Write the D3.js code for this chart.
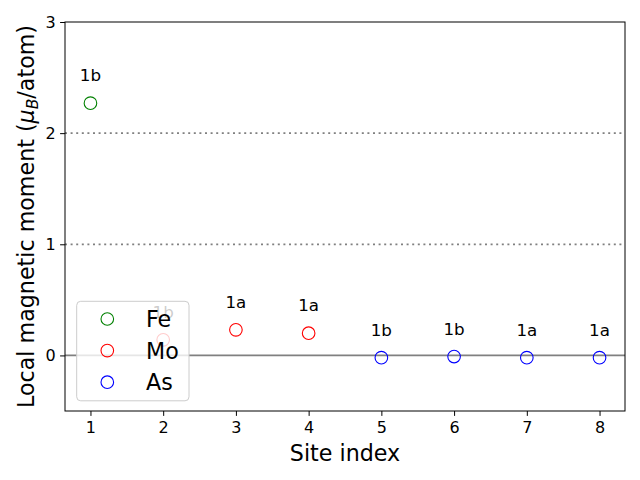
<!DOCTYPE html>
<html><head><meta charset="utf-8">
<script src="https://cdn.jsdelivr.net/npm/d3@7"></script>
<style>body{margin:0;background:#fff}svg{display:block;font-family:"DejaVu Sans",sans-serif}</style>
</head><body>
<svg id="c" width="640" height="480"></svg>
<script>
const sites = [1,2,3,4,5,6,7,8];
const moments = [2.27,0.14,0.23,0.20,-0.02,-0.01,-0.02,-0.02];
const elements = ["Fe","Mo","Mo","Mo","As","As","As","As"];
const wyckoff = ["1b","1b","1a","1a","1b","1b","1a","1a"];
const legendNames = ["Fe","Mo","As"];
const colors = {Fe:"green",Mo:"red",As:"blue"};
const xTicks = [1,2,3,4,5,6,7,8];
const yTicks = [0,1,2,3];
const refLines = [1,2];

const svg = d3.select("#c");
const L=65,R=625,T=22,B=411;
const x = d3.scaleLinear().domain([0.65,8.35]).range([L,R]);
const y = d3.scaleLinear().domain([-0.5,3]).range([B,T]);

// reference lines
svg.append("line").attr("x1",L).attr("x2",R).attr("y1",y(0)).attr("y2",y(0))
  .attr("stroke","gray").attr("stroke-width",1.8);
svg.selectAll(".ref").data(refLines).enter().append("line")
  .attr("x1",L).attr("x2",R).attr("y1",d=>y(d)).attr("y2",d=>y(d))
  .attr("stroke","gray").attr("stroke-width",1.8).attr("stroke-dasharray","2,3.6");

// points
const data = sites.map((s,i)=>({s,v:moments[i],e:elements[i],w:wyckoff[i]}));
svg.selectAll(".pt").data(data).enter().append("circle")
  .attr("cx",d=>x(d.s)).attr("cy",d=>y(d.v)).attr("r",6.3)
  .attr("fill","none").attr("stroke",d=>colors[d.e]).attr("stroke-width",1.1);
svg.selectAll(".lbl").data(data).enter().append("text")
  .attr("x",d=>x(d.s)).attr("y",d=>y(d.v+0.25)).attr("text-anchor","middle")
  .attr("dominant-baseline","central").attr("font-size",16.7).attr("fill","black").text(d=>d.w);

// axes
const xa = svg.append("g").attr("transform",`translate(0,${B})`)
  .call(d3.axisBottom(x).tickValues(xTicks).tickSize(4.9).tickPadding(5.5).tickFormat(d3.format("d")));
const ya = svg.append("g").attr("transform",`translate(${L},0)`)
  .call(d3.axisLeft(y).tickValues(yTicks).tickSize(4.9).tickPadding(4.5).tickFormat(d3.format("d")));
[xa,ya].forEach(g=>{g.select(".domain").remove();g.selectAll("text").attr("font-size",16).attr("font-family","DejaVu Sans").attr("fill","black");g.selectAll("line").attr("stroke","black").attr("stroke-width",1);});
svg.append("rect").attr("x",L).attr("y",T).attr("width",R-L).attr("height",B-T)
  .attr("fill","none").attr("stroke","black").attr("stroke-width",1);

// axis labels
svg.append("text").attr("x",(L+R)/2).attr("y",461).attr("text-anchor","middle")
  .attr("font-size",22.2).text("Site index");
const yl = svg.append("text").attr("transform",`translate(34,${(T+B)/2}) rotate(-90)`)
  .attr("text-anchor","middle").attr("font-size",22.2);
yl.append("tspan").text("Local magnetic moment (");
yl.append("tspan").attr("font-style","italic").text("μ");
yl.append("tspan").attr("font-style","italic").attr("font-size",15.5).attr("dy",4).text("B");
yl.append("tspan").attr("dy",-4).text("/atom)");

// legend
const lg = svg.append("g");
lg.append("rect").attr("x",76.7).attr("y",301.3).attr("width",112.3).attr("height",99.5).attr("rx",4)
  .attr("fill","white").attr("fill-opacity",0.8).attr("stroke","#cccccc").attr("stroke-width",1);
legendNames.forEach((n,i)=>{
  const yy = 319 + i*31.6;
  lg.append("circle").attr("cx",107.3).attr("cy",yy).attr("r",6.3).attr("fill","none")
    .attr("stroke",colors[n]).attr("stroke-width",1.1);
  lg.append("text").attr("x",146).attr("y",yy).attr("dominant-baseline","central")
    .attr("font-size",22.2).text(n);
});
</script>
</body></html>
